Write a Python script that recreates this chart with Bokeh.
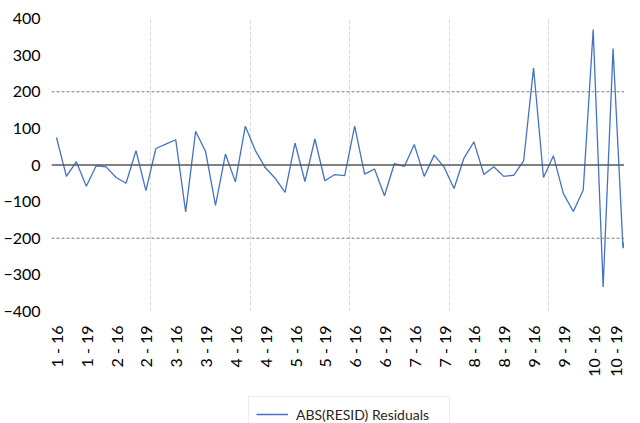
from bokeh.plotting import figure
from bokeh.layouts import column
from bokeh.models import Range1d, FixedTicker, Span, Legend, LegendItem
from bokeh.embed import file_html
from bokeh.resources import INLINE
import math

# ---- data ----
days = [1, 2, 3, 4, 5, 6, 7, 8, 9, 10]
hours = [16, 17, 18, 19, 20, 21]
categories = [f"{d} - {h}" for d in days for h in hours]

residuals = [75, -31, 9, -58, -2, -5, -34, -50, 39, -70,
             45, 57, 69, -128, 92, 37, -110, 30, -46, 106,
             40, -7, -36, -75, 60, -45, 71, -43, -26, -29,
             106, -25, -11, -84, 4, -4, 56, -31, 27, -6,
             -64, 19, 63, -26, -5, -31, -28, 11, 265, -34,
             25, -78, -127, -68, 370, -333, 318, -227, -115, -30]

y_ticks = [-400, -300, -200, -100, 0, 100, 200, 300, 400]
label_every = 3
grid_every = 10
limit_lines = [-200, 200]
series_name = "ABS(RESID) Residuals"

FONT = "Lato"
LINE_COLOR = "#4472C4"

x = list(range(len(categories)))

p = figure(width=624, height=388, output_backend="svg", toolbar_location=None,
           x_range=Range1d(-0.5, 57.15), y_range=Range1d(-400, 400),
           min_border_left=48, min_border_right=0, min_border_top=18,
           min_border_bottom=77)
p.outline_line_color = None
p.background_fill_color = "white"

r = p.line(x, residuals, line_color=LINE_COLOR, line_width=1.3)

# zero line and limit lines
p.add_layout(Span(location=0, dimension="width", line_color="#595959", line_width=1.5))
for v in limit_lines:
    p.add_layout(Span(location=v, dimension="width", line_color="#7f7f7f",
                      line_width=1, line_dash="3 2"))

# y axis
p.yaxis.ticker = FixedTicker(ticks=y_ticks)
p.yaxis.axis_line_color = None
p.yaxis.major_tick_line_color = None
p.yaxis.minor_tick_line_color = None
p.yaxis.major_label_text_font = FONT
p.yaxis.major_label_text_font_size = "16px"
p.yaxis.major_label_text_color = "black"
p.yaxis.major_label_standoff = 5
p.ygrid.visible = False

# x axis
tick_idx = list(range(0, len(categories), label_every))
p.xaxis.ticker = FixedTicker(ticks=tick_idx)
p.xaxis.major_label_overrides = {i: categories[i] for i in tick_idx}
p.xaxis.major_label_orientation = math.pi / 2
p.xaxis.axis_line_color = None
p.xaxis.major_tick_line_color = None
p.xaxis.minor_tick_line_color = None
p.xaxis.major_label_text_font = FONT
p.xaxis.major_label_text_font_size = "16px"
p.xaxis.major_label_text_color = "black"
p.xaxis.major_label_standoff = 8

p.xgrid.ticker = FixedTicker(ticks=[i - 0.5 for i in range(grid_every, len(categories), grid_every)])
p.xgrid.grid_line_color = "#d9d9d9"
p.xgrid.grid_line_dash = "4 2"
p.xgrid.grid_line_width = 1

# ---- legend strip below the chart ----
p2 = figure(width=624, height=35, output_backend="svg", toolbar_location=None,
            x_range=Range1d(-0.5, 57.15), y_range=Range1d(1000, 1001),
            x_axis_location=None, y_axis_location=None, min_border=0)
p2.outline_line_color = None
p2.xgrid.visible = False
p2.ygrid.visible = False
# same series; its values lie outside this strip's y range, so only the legend key shows
r2 = p2.line(x, residuals, line_color=LINE_COLOR, line_width=1.3)

legend = Legend(items=[LegendItem(label=series_name, renderers=[r2])],
                location=(197, -9), orientation="horizontal",
                border_line_color="#d9d9d9", border_line_width=1,
                background_fill_color="white",
                label_text_font=FONT, label_text_font_size="14px",
                label_text_color="#262626", label_width=146,
                glyph_width=32, label_standoff=8, padding=7, margin=0,
                spacing=0)
p2.add_layout(legend, "center")

layout = column(p, p2, spacing=0)

open("out.html", "w").write(file_html(layout, INLINE))
